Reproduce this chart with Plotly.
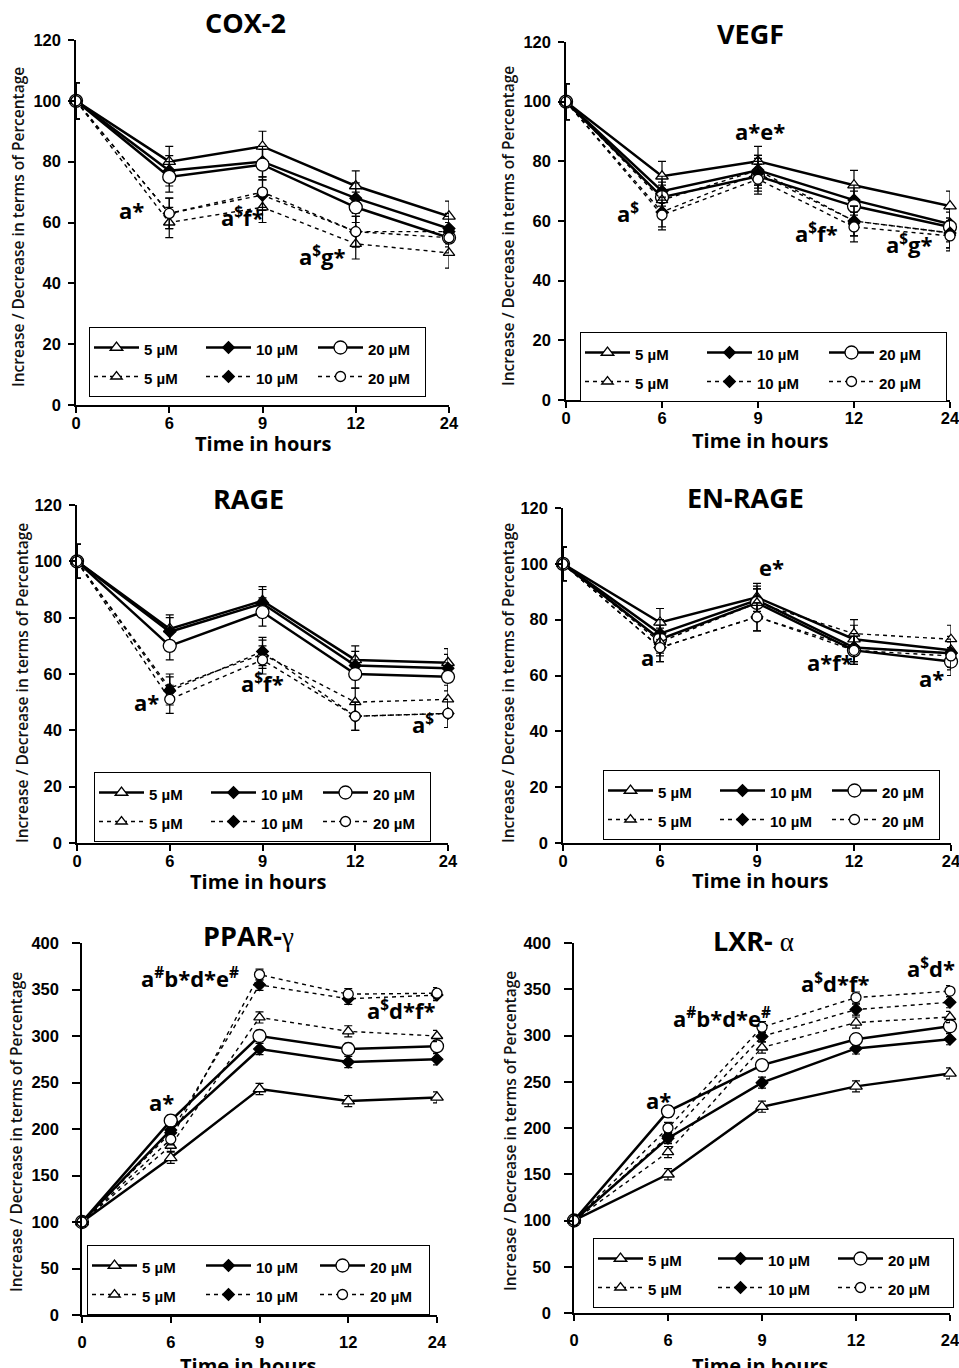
import plotly.graph_objects as go

# ---------------- data ----------------
hours = ["0", "6", "9", "12", "24"]
dose_labels = ["5 µM", "10 µM", "20 µM"]

COX2_S5 = [100, 80, 85, 72, 62]
COX2_S10 = [100, 77, 80, 68, 58]
COX2_S20 = [100, 75, 79, 65, 55]
COX2_D5 = [100, 60, 65, 53, 50]
COX2_D10 = [100, 63, 69, 57, 57]
COX2_D20 = [100, 63, 70, 57, 55]
COX2_ERR = [6, 5, 5, 5, 5]

VEGF_S5 = [100, 75, 80, 72, 65]
VEGF_S10 = [100, 70, 77, 67, 59]
VEGF_S20 = [100, 68, 75, 65, 58]
VEGF_D5 = [100, 67, 77, 60, 56]
VEGF_D10 = [100, 63, 76, 60, 56]
VEGF_D20 = [100, 62, 74, 58, 55]
VEGF_ERR = [6, 5, 5, 5, 5]

RAGE_S5 = [100, 76, 86, 65, 64]
RAGE_S10 = [100, 75, 85, 63, 62]
RAGE_S20 = [100, 70, 82, 60, 59]
RAGE_D5 = [100, 55, 67, 50, 51]
RAGE_D10 = [100, 54, 68, 45, 46]
RAGE_D20 = [100, 51, 65, 45, 46]
RAGE_ERR = [6, 5, 5, 5, 5]

ENRAGE_S5 = [100, 79, 88, 73, 69]
ENRAGE_S10 = [100, 75, 87, 70, 68]
ENRAGE_S20 = [100, 73, 86, 69, 65]
ENRAGE_D5 = [100, 72, 86, 75, 73]
ENRAGE_D10 = [100, 70, 81, 70, 68]
ENRAGE_D20 = [100, 70, 81, 69, 67]
ENRAGE_ERR = [6, 5, 5, 5, 5]

PPAR_S5 = [100, 169, 243, 230, 234]
PPAR_S10 = [100, 199, 286, 272, 275]
PPAR_S20 = [100, 209, 300, 286, 289]
PPAR_D5 = [100, 182, 320, 305, 300]
PPAR_D10 = [100, 196, 355, 340, 344]
PPAR_D20 = [100, 189, 366, 345, 346]
PPAR_ERR = [5, 6, 6, 6, 6]

LXR_S5 = [100, 150, 223, 245, 259]
LXR_S10 = [100, 189, 249, 286, 296]
LXR_S20 = [100, 218, 268, 296, 310]
LXR_D5 = [100, 174, 287, 314, 320]
LXR_D10 = [100, 191, 299, 328, 336]
LXR_D20 = [100, 200, 309, 341, 348]
LXR_ERR = [5, 6, 6, 6, 6]

panels = [
    dict(title="COX-2", solid=[COX2_S5, COX2_S10, COX2_S20], dashed=[COX2_D5, COX2_D10, COX2_D20], err=COX2_ERR),
    dict(title="VEGF", solid=[VEGF_S5, VEGF_S10, VEGF_S20], dashed=[VEGF_D5, VEGF_D10, VEGF_D20], err=VEGF_ERR),
    dict(title="RAGE", solid=[RAGE_S5, RAGE_S10, RAGE_S20], dashed=[RAGE_D5, RAGE_D10, RAGE_D20], err=RAGE_ERR),
    dict(title="EN-RAGE", solid=[ENRAGE_S5, ENRAGE_S10, ENRAGE_S20], dashed=[ENRAGE_D5, ENRAGE_D10, ENRAGE_D20], err=ENRAGE_ERR),
    dict(title="PPAR-<span style='font-family:Liberation Serif;font-weight:normal'>γ</span>",
         solid=[PPAR_S5, PPAR_S10, PPAR_S20], dashed=[PPAR_D5, PPAR_D10, PPAR_D20], err=PPAR_ERR),
    dict(title="LXR- <span style='font-family:Liberation Serif;font-weight:normal'>α</span>",
         solid=[LXR_S5, LXR_S10, LXR_S20], dashed=[LXR_D5, LXR_D10, LXR_D20], err=LXR_ERR),
]

# significance labels: (text, x position in category index units, y value)
sig_labels = [
    [("a*", 0.60, 64), ("a<sup>$</sup>f*", 1.79, 62), ("a<sup>$</sup>g*", 2.64, 49)],
    [("a<sup>$</sup>", 0.65, 63), ("a*e*", 2.02, 90), ("a<sup>$</sup>f*", 2.61, 56), ("a<sup>$</sup>g*", 3.58, 52.5)],
    [("a*", 0.75, 50), ("a<sup>$</sup>f*", 2.0, 57), ("a<sup>$</sup>", 3.73, 42.5)],
    [("a", 0.87, 66.5), ("e*", 2.15, 99), ("a*f*", 2.75, 65), ("a*", 3.8, 59)],
    [("a*", 0.9, 229), ("a<sup>#</sup>b*d*e<sup>#</sup>", 1.22, 363), ("a<sup>$</sup>d*f*", 3.6, 328)],
    [("a*", 0.9, 230), ("a<sup>#</sup>b*d*e<sup>#</sup>", 1.57, 319), ("a<sup>$</sup>d*f*", 2.78, 357), ("a<sup>$</sup>d*", 3.8, 373)],
]

# ---------------- layout geometry (pixels) ----------------
W, H = 959, 1368
# plot areas: x0, x1, ytop, ybottom
areas = [
    (76, 449, 40, 405),
    (566, 950, 42, 400),
    (77, 448, 505, 843),
    (563, 951, 508, 843),
    (82, 437, 943, 1315),
    (574, 950, 943, 1313),
]
yranges = [[0, 120]] * 4 + [[0, 400]] * 2
ydticks = [20] * 4 + [50] * 2
titles_pos = [(245, 22), (750, 33), (248, 499), (745, 497), (248, 935), (753, 940)]
ytitle_pos = [(18, 227), (508, 226), (22, 683), (508, 683), (16, 1132), (510, 1131)]
xtitle_pos = [(263, 443), (760, 440), (258, 881), (760, 880), (248, 1365), (760, 1365)]
# legend boxes: left, top, entrywidth
legend_pos = [(89, 327, 52), (580, 332, 62), (94, 772, 52), (603, 770, 52), (87, 1245, 54), (593, 1238, 60)]


def px(p):
    return p / W


def py(p):
    return 1 - p / H


symbols = ["triangle-up", "diamond", "circle"]
fills = ["white", "black", "white"]
solid_sizes = [11, 9, 13]
dashed_sizes = [10, 9, 10]

fig = go.Figure()
layout = dict(
    width=W, height=H, margin=dict(l=0, r=0, t=0, b=0, autoexpand=False),
    paper_bgcolor="white", plot_bgcolor="white", showlegend=True,
)
annotations = []

for i, p in enumerate(panels):
    n = "" if i == 0 else str(i + 1)
    xa, ya = "x" + n, "y" + n
    lg = "legend" + n
    top_row = i < 4
    for style in ("solid", "dashed"):
        for k in range(3):
            vals = p[style][k]
            is_solid = style == "solid"
            fig.add_trace(go.Scatter(
                x=hours, y=vals, xaxis=xa, yaxis=ya,
                mode="lines+markers",
                name="<span style='font-size:15px'>" + dose_labels[k] + "</span>",
                legend=lg, legendgroup=f"p{i}_{k}",
                line=dict(color="black", width=2.5 if is_solid else 1.4,
                          dash="solid" if is_solid else "4px,4px"),
                marker=dict(symbol=symbols[k], color=fills[k],
                            size=solid_sizes[k] if is_solid else dashed_sizes[k],
                            line=dict(color="black", width=1.3)),
                error_y=dict(type="data", array=p["err"], color="black", thickness=1.2, width=4),
                cliponaxis=False, hoverinfo="skip",
            ))

    x0, x1, yt, yb = areas[i]
    axis_common = dict(
        showline=True, linecolor="black", linewidth=1.5, mirror=False,
        ticks="outside", tickwidth=1.5, tickcolor="black",
        showgrid=False, zeroline=False, fixedrange=True,
        tickfont=dict(family="Liberation Sans, Arial", size=16.5, color="black", weight="bold"),
    )
    layout["xaxis" + n] = dict(
        axis_common, domain=[px(x0), px(x1)], anchor=ya, type="category",
        range=[0, 4], ticklen=6, ticklabelstandoff=(-4 if top_row else 5),
    )
    layout["yaxis" + n] = dict(
        axis_common, domain=[py(yb), py(yt)], anchor=xa,
        range=yranges[i], dtick=ydticks[i],
        ticklen=(6 if top_row else 8), ticklabelstandoff=(4 if top_row else 10),
    )
    lx, ly, ew = legend_pos[i]
    layout[lg] = dict(
        x=px(lx), y=py(ly), xanchor="left", yanchor="top",
        orientation="h", traceorder="grouped", itemwidth=45,
        entrywidth=ew, entrywidthmode="pixels", tracegroupgap=0,
        bgcolor="white", bordercolor="black", borderwidth=1,
        font=dict(family="Liberation Sans, Arial", size=20, color="black", weight="bold"),
        itemclick=False, itemdoubleclick=False,
    )

    tx, ty = titles_pos[i]
    annotations.append(dict(
        text=p["title"], x=px(tx), y=py(ty), xref="paper", yref="paper",
        showarrow=False, xanchor="center", yanchor="middle",
        font=dict(family="Open Sans", size=27, color="black", weight="bold"),
    ))
    yx, yy = ytitle_pos[i]
    annotations.append(dict(
        text="Increase / Decrease in terms of Percentage", x=px(yx), y=py(yy),
        xref="paper", yref="paper", showarrow=False, textangle=-90,
        xanchor="center", yanchor="middle",
        font=dict(family="Open Sans", size=15.5, color="#111", weight=600),
    ))
    xx, xy = xtitle_pos[i]
    annotations.append(dict(
        text="Time in hours", x=px(xx), y=py(xy), xref="paper", yref="paper",
        showarrow=False, xanchor="center", yanchor="middle",
        font=dict(family="Open Sans", size=20, color="black", weight="bold"),
    ))
    for (t, sx, sy) in sig_labels[i]:
        annotations.append(dict(
            text=t, x=sx, y=sy, xref=xa, yref=ya, showarrow=False,
            xanchor="center", yanchor="middle",
            font=dict(family="Open Sans", size=22, color="black", weight="bold"),
        ))

layout["annotations"] = annotations
fig.update_layout(**layout)
fig.write_html(
    "out.html",
    config={"displayModeBar": False},
    post_script="document.body.style.margin='0';document.body.style.overflow='hidden';",
)
